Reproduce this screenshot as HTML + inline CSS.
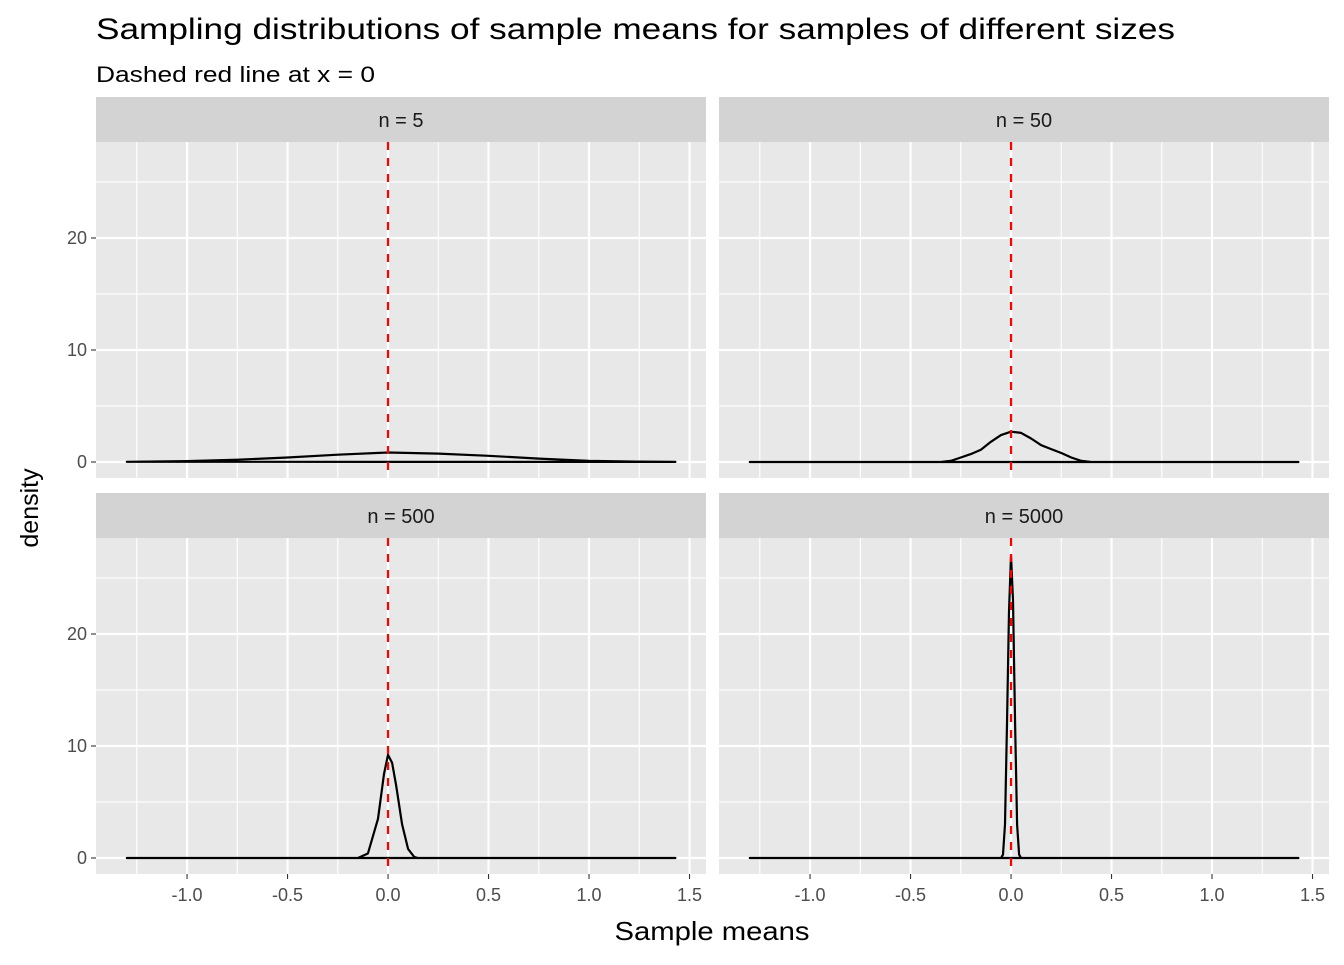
<!DOCTYPE html>
<html><head><meta charset="utf-8"><style>
body{margin:0;background:#fff;font-family:"Liberation Sans",Arial,sans-serif}
</style></head><body>
<svg id="c" width="1344" height="960" xmlns="http://www.w3.org/2000/svg" style="font-family:'Liberation Sans',Arial,sans-serif">
<text x="96" y="39" font-size="30" textLength="1079" lengthAdjust="spacingAndGlyphs" fill="#000">Sampling distributions of sample means for samples of different sizes</text>
<text x="96" y="82" font-size="22" textLength="279" lengthAdjust="spacingAndGlyphs" fill="#000">Dashed red line at x = 0</text>
<text x="712" y="940" font-size="26" textLength="195" lengthAdjust="spacingAndGlyphs" text-anchor="middle">Sample means</text>
<text transform="translate(38,508) rotate(-90)" font-size="25" text-anchor="middle">density</text>
<g id="panels"></g>
</svg>
<script>
const panelLabels = ["n = 5","n = 50","n = 500","n = 5000"];
const xTicks = [-1.0,-0.5,0.0,0.5,1.0,1.5];
const xTickLabels = ["-1.0","-0.5","0.0","0.5","1.0","1.5"];
const yTicks = [0,10,20];
const x5 = [-1.3,-1,-0.75,-0.5,-0.25,0,0.25,0.5,0.75,1,1.25,1.43];
const y5 = [0.02,0.08,0.2,0.4,0.65,0.85,0.75,0.55,0.3,0.1,0.03,0.01];
const x50 = [-1.3,-0.35,-0.3,-0.25,-0.2,-0.15,-0.1,-0.05,0,0.05,0.1,0.15,0.2,0.25,0.3,0.35,0.4,1.43];
const y50 = [0,0,0.1,0.4,0.7,1.1,1.8,2.4,2.7,2.6,2.1,1.5,1.15,0.8,0.4,0.1,0,0];
const x500 = [-1.3,-0.15,-0.1,-0.05,-0.02,0,0.02,0.04,0.07,0.1,0.13,0.15,1.43];
const y500 = [0,0,0.4,3.5,7.5,9.2,8.5,6.5,3,0.8,0.1,0,0];
const x5000 = [-1.3,-0.05,-0.04,-0.03,-0.02,-0.01,0,0.01,0.02,0.03,0.04,0.05,1.43];
const y5000 = [0,0,0.3,3,12,22,27,23,12,3,0.3,0,0];
const seriesX = [x5,x50,x500,x5000];
const seriesY = [y5,y50,y500,y5000];
const NS="http://www.w3.org/2000/svg";
const g=document.getElementById('panels');
function mk(t,a,p){const e=document.createElementNS(NS,t);for(const k in a)e.setAttribute(k,a[k]);(p||g).appendChild(e);return e;}
const XMIN=-1.453,XMAX=1.582,YMIN=-1.43,YMAX=28.57;
const lefts=[96,719],tops=[142,538],W=610,H=336;
for(let i=0;i<4;i++){
  const L=lefts[i%2],T=tops[Math.floor(i/2)];
  const sx=v=>L+(v-XMIN)/(XMAX-XMIN)*W, sy=v=>T+H-(v-YMIN)/(YMAX-YMIN)*H;
  const pg=mk('g',{});
  
  
  const st=mk('rect',{x:L,y:T-45,width:W,height:45,fill:'#d3d3d3'},pg);
  
  
  const sl=mk('text',{x:L+W/2,y:T-15,'font-size':20,'text-anchor':'middle',fill:'#1a1a1a'},pg);sl.textContent=panelLabels[i];
  
  
  const bg=mk('rect',{x:L,y:T,width:W,height:H,fill:'#e8e8e8'},pg);
  
  
  for(let v=-1.25;v<=1.5;v+=0.5) mk('line',{x1:sx(v),x2:sx(v),y1:T,y2:T+H,stroke:'#fff','stroke-width':1.1},pg);
  [5,15,25].forEach(v=>mk('line',{x1:L,x2:L+W,y1:sy(v),y2:sy(v),stroke:'#fff','stroke-width':1.1},pg));
  xTicks.forEach(v=>mk('line',{x1:sx(v),x2:sx(v),y1:T,y2:T+H,stroke:'#fff','stroke-width':2.2},pg));
  yTicks.forEach(v=>mk('line',{x1:L,x2:L+W,y1:sy(v),y2:sy(v),stroke:'#fff','stroke-width':2.2},pg));
  if(i%2==0) yTicks.forEach(v=>{
    mk('line',{x1:L-5,x2:L,y1:sy(v),y2:sy(v),stroke:'#333','stroke-width':1.1},pg);
    const t=mk('text',{x:L-9,y:sy(v)+6,'font-size':18,'text-anchor':'end',fill:'#4d4d4d'},pg);t.textContent=v;
    
    
  });
  if(i>=2) xTicks.forEach((v,k)=>{
    mk('line',{x1:sx(v),x2:sx(v),y1:T+H,y2:T+H+5,stroke:'#333','stroke-width':1.1},pg);
    const t=mk('text',{x:sx(v),y:T+H+27,'font-size':18,'text-anchor':'middle',fill:'#4d4d4d'},pg);t.textContent=xTickLabels[k];
    
    
  });
  const xs=seriesX[i],ys=seriesY[i];
  let d='M'+xs.map((x,k)=>sx(x).toFixed(1)+','+sy(ys[k]).toFixed(1)).join('L')+'Z';
  const c=mk('path',{d:d,fill:'none',stroke:'#000','stroke-width':2.2,'stroke-linejoin':'round'},pg);
  
  
  const r=mk('line',{x1:sx(0),x2:sx(0),y1:T,y2:T+H,stroke:'#ff0000','stroke-width':2.2,'stroke-dasharray':'8,8'},pg);
  
  
}
</script>
</body></html>
